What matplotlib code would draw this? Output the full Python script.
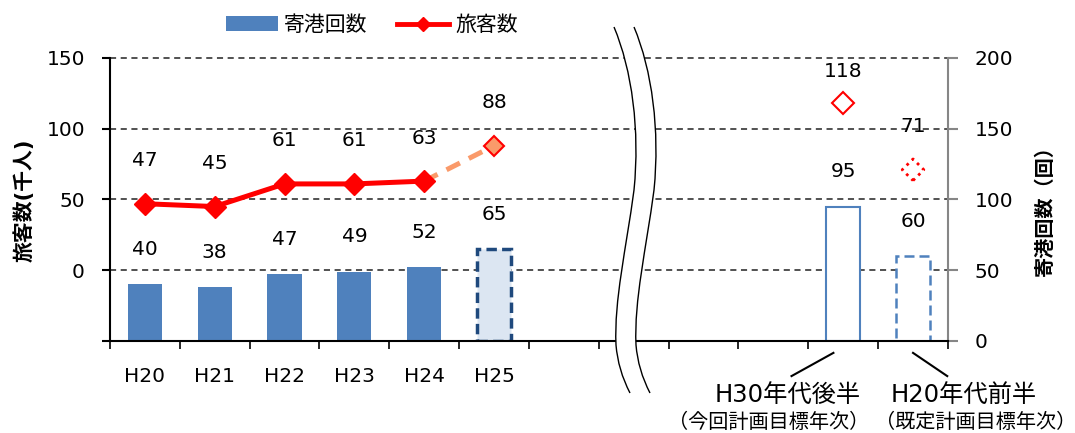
import matplotlib
matplotlib.use('Agg')
import matplotlib.pyplot as plt
from matplotlib.lines import Line2D
from matplotlib.patches import Patch, PathPatch
from matplotlib.path import Path
import numpy as np

plt.rcParams['font.family'] = ['DejaVu Sans', 'Noto Sans CJK JP']

# 年度別の実績（H25は見込み）
years = ['H20', 'H21', 'H22', 'H23', 'H24', 'H25']
calls = [40, 38, 47, 49, 52, 65]          # 寄港回数（回）
passengers = [47, 45, 61, 61, 63, 88]     # 旅客数（千人）

# 目標年次の値
target_names = ['H30年代後半', 'H20年代前半']
target_notes = ['（今回計画目標年次）', '（既定計画目標年次）']
target_calls = [95, 60]
target_passengers = [118, 71]

x_years = np.arange(len(years))
x_targets = np.array([10, 11])

BLUE = '#4F81BD'
ORANGE = '#FA9A6A'
FS = 14.5

fig = plt.figure(figsize=(10.75, 4.33), dpi=100)
ax = fig.add_axes([0.1023, 0.2125, 0.7795, 0.6536])
axr = ax.twinx()
ax.set_zorder(axr.get_zorder() + 1)
ax.patch.set_visible(False)

# --- 寄港回数（右軸） ---
bw = 0.49
axr.bar(x_years[:5], calls[:5], width=bw, color=BLUE, zorder=2)
axr.bar(x_years[5], calls[5], width=bw, facecolor='#DCE6F2', edgecolor='#1F497D',
        linestyle=(0, (3, 1.5)), linewidth=2.5, zorder=2)
axr.bar(x_targets[0], target_calls[0], width=bw, facecolor='white', edgecolor=BLUE,
        linewidth=1.5, zorder=2)
axr.bar(x_targets[1], target_calls[1], width=bw, facecolor='white', edgecolor=BLUE,
        linestyle=(0, (4, 2)), linewidth=1.8, zorder=2)

for x, v in zip(list(x_years) + list(x_targets), calls + target_calls):
    axr.annotate(str(v), (x, v), xytext=(0, 25), textcoords='offset points',
                 ha='center', va='center', fontsize=FS)

axr.set_ylim(0, 200)
axr.set_yticks(np.arange(0, 201, 50))
axr.tick_params(axis='y', length=7, width=1.5, color='#868686', pad=12, labelsize=FS)
axr.set_axisbelow(True)
axr.yaxis.grid(True, color='#222222', linestyle=(0, (4, 3)), linewidth=1.1)
for t in axr.yaxis.get_major_ticks():
    t.gridline.set_clip_on(False)
for s in ['top', 'left', 'bottom']:
    axr.spines[s].set_visible(False)
axr.spines['right'].set_color('#868686')
axr.spines['right'].set_linewidth(1.5)

# --- 旅客数（左軸） ---
ax.plot(x_years[4:6], passengers[4:6], color=ORANGE, lw=3.6,
        linestyle=(0, (3, 2)), zorder=3)
ax.plot(x_years[:5], passengers[:5], color='red', lw=3.6, marker='D', ms=11, zorder=4)
ax.plot(x_years[5], passengers[5], marker='D', ms=10.5, mfc=ORANGE, mec='red', mew=1.5,
        zorder=4)
ax.plot(x_targets[0], target_passengers[0], marker='D', ms=11, mfc='white', mec='red',
        mew=1.5, zorder=4)
ax.scatter([x_targets[1]], [target_passengers[1]], marker='D', s=121, facecolors='none',
           edgecolors='red', linestyles=':', linewidths=2, zorder=4)

for x, v in zip(list(x_years) + list(x_targets), passengers + target_passengers):
    dy = 23 if v == target_passengers[0] else 31
    ax.annotate(str(v), (x, v), xytext=(0, dy), textcoords='offset points',
                ha='center', va='center', fontsize=FS)

ax.set_ylim(-50, 150)
ax.set_yticks([-50, 0, 50, 100, 150])
ax.set_yticklabels(['', '0', '50', '100', '150'])
ax.tick_params(axis='y', length=6, width=1.5, pad=12, labelsize=FS)

ax.set_xlim(-0.5, 11.5)
ax.set_xticks(x_years)
ax.set_xticklabels(years)
ax.set_xticks(np.arange(-0.5, 12, 1), minor=True)
ax.tick_params(axis='x', which='major', length=0, pad=19, labelsize=FS)
ax.tick_params(axis='x', which='minor', length=6, width=1.2, direction='out')
for s in ['top', 'right']:
    ax.spines[s].set_visible(False)
ax.spines['left'].set_linewidth(1.5)
ax.spines['bottom'].set_linewidth(1.5)

fig.text(0.023, 1 - 200 / 433, '旅客数(千人)', rotation=90, ha='center', va='center',
         fontsize=15, fontweight='bold')
fig.text(0.972, 1 - 206 / 433, '寄港回数（回）', rotation=90, ha='center', va='center',
         fontsize=14.5, fontweight='bold')

# 目標年次のラベルと引き出し線
trans = ax.get_xaxis_transform()
ax.plot([9.26, 9.86], [-0.124, -0.042], color='black', lw=1.5, transform=trans,
        clip_on=False)
ax.plot([11.0, 11.49], [-0.042, -0.124], color='black', lw=1.5, transform=trans,
        clip_on=False)
for xn, xs, name, note in zip([9.21, 11.72], [8.93, 11.9], target_names, target_notes):
    ax.text(xn, -0.19, name, transform=trans, ha='center', va='center', fontsize=17.5)
    ax.text(xs, -0.288, note, transform=trans, ha='center', va='center', fontsize=14.5,
            family=['Noto Sans CJK JP'])

# 省略記号（波線）
def px(x, y):
    return (x / 100, (433 - y) / 100)

left_pts = [(614, 27), (632, 70), (640, 130), (634, 190), (626, 250), (614, 300),
            (616, 345), (618, 370), (630, 393)]
codes = [Path.MOVETO, Path.CURVE4, Path.CURVE4, Path.CURVE4, Path.CURVE4, Path.CURVE4,
         Path.CURVE4, Path.CURVE3, Path.CURVE3]
right_pts = [(x + 20, y) for x, y in left_pts]

fill_pts = [px(*p) for p in left_pts] + [px(*p) for p in reversed(right_pts)] + [px(*left_pts[0])]
fill_codes = codes + [Path.LINETO] + [Path.CURVE3, Path.CURVE3, Path.CURVE4, Path.CURVE4,
                                       Path.CURVE4, Path.CURVE4, Path.CURVE4, Path.CURVE4] + [Path.CLOSEPOLY]
fig.add_artist(PathPatch(Path(fill_pts, fill_codes), facecolor='white', edgecolor='none',
                         transform=fig.dpi_scale_trans, zorder=10))
for pts in (left_pts, right_pts):
    fig.add_artist(PathPatch(Path([px(*p) for p in pts], codes), facecolor='none',
                             edgecolor='black', lw=1, transform=fig.dpi_scale_trans,
                             zorder=11))

# 凡例
handles = [Patch(facecolor=BLUE),
           Line2D([], [], color='red', lw=3.5, marker='D', ms=7)]
fig.legend(handles, ['寄港回数', '旅客数'], loc='center', bbox_to_anchor=(0.346, 0.942),
           ncol=2, frameon=False, fontsize=15, handlelength=2.5, handleheight=0.75,
           handletextpad=0.3, columnspacing=1.4)

fig.savefig('out.png', dpi=100)
